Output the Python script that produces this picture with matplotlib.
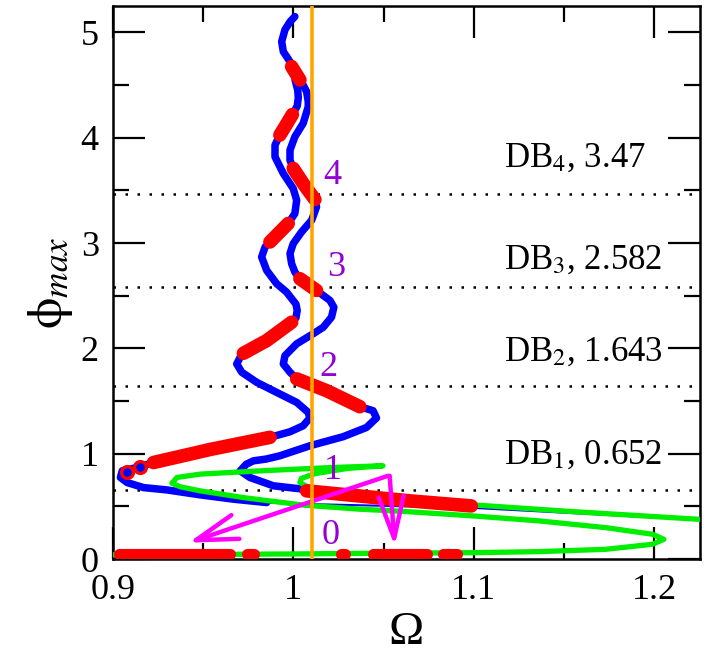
import matplotlib
matplotlib.use("Agg")
import matplotlib.pyplot as plt
from matplotlib.ticker import MultipleLocator

plt.rcParams['font.family'] = ['Liberation Serif', 'DejaVu Serif']
plt.rcParams['mathtext.fontset'] = 'stix'

# ---------------- data ----------------
# blue branch A (left snake), omega / phi_max
blueA_om = [0.9853, 0.9669, 0.9485, 0.930, 0.9171, 0.908, 0.9043, 0.9053, 0.915, 0.9226,
            0.954, 0.9871, 0.9982, 1.0055, 1.0092, 1.0083, 1.0019, 0.9908, 0.9798, 0.9715,
            0.9687, 0.9706, 0.9724, 0.9853, 0.9991, 1.0015, 1.0022, 1.0015, 0.9963, 0.9908,
            0.9853, 0.9825, 0.9844, 0.9871, 0.9972, 1.0009, 1.0019, 1.0, 0.9945, 0.9899,
            0.9899, 0.9926, 0.9995, 1.0022, 1.0028, 1.0025, 1.001]
blueA_phi = [0.536, 0.568, 0.609, 0.656, 0.678, 0.726, 0.774, 0.837, 0.875, 0.916,
             1.04, 1.155, 1.208, 1.265, 1.339, 1.392, 1.487, 1.582, 1.677, 1.773,
             1.852, 1.915, 1.953, 2.074, 2.248, 2.29, 2.36, 2.42, 2.534, 2.614,
             2.74, 2.867, 2.962, 3.01, 3.185, 3.28, 3.406, 3.517, 3.66, 3.818,
             3.93, 4.025, 4.22, 4.30, 4.38, 4.45, 4.55]

# faint tail of branch A under the green curve
tailA_om = [0.9853, 1.0, 1.05, 1.10, 1.15, 1.20, 1.225]
tailA_phi = [0.536, 0.525, 0.505, 0.485, 0.44, 0.395, 0.37]

# blue branch B (right snake)
blueB_om = [1.0074, 1.0055, 0.989, 0.976, 0.9706, 0.974, 0.9779, 0.985, 0.9926, 1.0092,
            1.0276, 1.0406, 1.0461, 1.0442, 1.0369, 1.0185, 1.0019, 0.9982, 0.9945, 0.9954,
            1.0019, 1.011, 1.0166, 1.0212, 1.0225, 1.0203, 1.0166, 1.0129, 1.0037, 1.0009,
            0.9991, 0.9982, 1.0, 1.0046, 1.0102, 1.0129, 1.012, 1.0055, 1.0, 0.9982,
            0.9982, 1.0009, 1.0055, 1.0083, 1.0083, 1.0074, 1.0055, 1.0037, 0.9991, 0.9982,
            0.9945, 0.9936, 0.9954, 0.9982, 1.0009]
blueB_phi = [0.647, 0.663, 0.695, 0.774, 0.837, 0.90, 0.932, 0.949, 0.98, 1.075,
             1.161, 1.249, 1.339, 1.408, 1.446, 1.598, 1.71, 1.773, 1.852, 1.93,
             2.043, 2.138, 2.2, 2.296, 2.39, 2.455, 2.502, 2.55, 2.661, 2.724,
             2.804, 2.9, 2.994, 3.105, 3.216, 3.343, 3.413, 3.565, 3.708, 3.787,
             3.882, 4.009, 4.136, 4.294, 4.342, 4.437, 4.5, 4.548, 4.675, 4.722,
             4.817, 4.913, 5.024, 5.10, 5.15]

# red (stable) pieces lying on the blue branches
red_om = [[0.9226, 0.954, 0.9871],
          [0.9724, 0.9853, 0.9991],
          [0.9871, 0.992, 0.9972],
          [0.9926, 0.996, 0.9995],
          [1.0074, 1.0645, 1.0986],
          [1.0369, 1.0185, 1.0019],
          [1.0129, 1.0037],
          [1.012, 1.0055, 1.0],
          [1.0037, 0.9991]]
red_phi = [[0.916, 1.04, 1.155],
           [1.953, 2.074, 2.248],
           [3.01, 3.095, 3.185],
           [4.025, 4.12, 4.22],
           [0.647, 0.552, 0.504],
           [1.446, 1.598, 1.71],
           [2.55, 2.661],
           [3.413, 3.565, 3.708],
           [4.548, 4.675]]

# red circles near the left fold
circ_om = [0.908, 0.915]
circ_phi = [0.83, 0.875]

# red pieces of the zero-amplitude state
red0_om = [[0.9036, 0.965], [0.9742, 0.978], [1.0265, 1.0285], [1.044, 1.0739], [1.0827, 1.0905]]
red0_phi = 0.045

# green branch
green_om = [0.9, 0.95, 1.0, 1.05, 1.10, 1.136, 1.173, 1.199, 1.2053, 1.199,
            1.173, 1.136, 1.0995, 1.063, 1.0368, 1.0055, 0.9853, 0.9724, 0.9485, 0.9375,
            0.9328, 0.9356, 0.9485, 0.9853, 1.022, 1.0497, 1.03, 1.012, 1.0045, 1.0037,
            1.0074, 1.02, 1.05, 1.0995, 1.1547, 1.2247]
green_phi = [0.04, 0.043, 0.048, 0.055, 0.06, 0.07, 0.092, 0.14, 0.187, 0.235,
             0.298, 0.362, 0.409, 0.45, 0.473, 0.512, 0.555, 0.583, 0.647, 0.685,
             0.72, 0.774, 0.806, 0.84, 0.869, 0.885, 0.86, 0.81, 0.765, 0.726,
             0.69, 0.655, 0.60, 0.514, 0.45, 0.377]

# double-boundary levels
db_names = [r'DB$_{1}$, 0.652', r'DB$_{2}$, 1.643', r'DB$_{3}$, 2.582', r'DB$_{4}$, 3.47']
db_levels = [0.652, 1.643, 2.582, 3.47]
db_text_phi = [0.90, 1.884, 2.756, 3.723]
db_text_om = 1.117

omega_line = 1.0102

num_labels = ['0', '1', '2', '3', '4']
num_om = [1.0206, 1.0218, 1.0193, 1.0236, 1.0218]
num_phi = [0.219, 0.837, 1.82, 2.772, 3.644]

# arrows (start -> tip)
arrow_start = [(1.0525, 0.79), (1.0534, 0.79)]
arrow_tip = [(0.942, 0.155), (1.0562, 0.124)]

xticks = [0.9, 1.0, 1.1, 1.2]
xticklabels = ['0.9', '1', '1.1', '1.2']
yticks = [0, 1, 2, 3, 4, 5]

# ---------------- drawing ----------------
fig = plt.figure(figsize=(7.06, 6.61), dpi=100)
ax = fig.add_axes([0.1596, 0.1543, 0.8312, 0.8366])

for lev in db_levels:
    ax.axhline(lev, color='black', lw=1.8, linestyle=(0, (1, 3.8)), zorder=1)

ax.plot(tailA_om, tailA_phi, color='blue', lw=1.5, zorder=2, solid_capstyle='round')
ax.plot(blueA_om, blueA_phi, color='blue', lw=5.4, zorder=2, solid_capstyle='round')
ax.plot(blueB_om, blueB_phi, color='blue', lw=5.4, zorder=2, solid_capstyle='round')

ax.plot(green_om, green_phi, color='#00ee00', lw=3.8, zorder=3, solid_joinstyle='round')

for xs, ys in zip(red_om, red_phi):
    ax.plot(xs, ys, color='red', lw=9.8, zorder=4, solid_capstyle='round')
for seg in red0_om:
    ax.plot(seg, [red0_phi, red0_phi], color='red', lw=8.0, zorder=4, solid_capstyle='round')
ax.plot(circ_om, circ_phi, linestyle='none', marker='o', markersize=8.5,
        markerfacecolor='blue', markeredgecolor='red', markeredgewidth=2.4, zorder=4)

for (sx, sy), (tx, ty) in zip(arrow_start, arrow_tip):
    ax.annotate('', xy=(tx, ty), xytext=(sx, sy),
                arrowprops=dict(arrowstyle='->,head_length=3.0,head_width=0.9',
                                color='#ff00ff', lw=3.2, shrinkA=0, shrinkB=0,
                                mutation_scale=10),
                zorder=5)

ax.axvline(omega_line, color='#ffa500', lw=2.6, zorder=6)

for lab, x, y in zip(num_labels, num_om, num_phi):
    ax.text(x, y, lab, color='#9400d3', fontsize=26, ha='center', va='center', zorder=7)

for name, y in zip(db_names, db_text_phi):
    ax.text(db_text_om, y, name, fontsize=25, ha='left', va='baseline', zorder=7)

ax.set_xlim(0.9, 1.225)
ax.set_ylim(0, 5.25)
ax.set_xticks(xticks)
ax.set_xticklabels(xticklabels)
ax.set_yticks(yticks)
ax.xaxis.set_minor_locator(MultipleLocator(0.05))
ax.yaxis.set_minor_locator(MultipleLocator(0.5))
ax.tick_params(which='major', direction='in', length=23, width=1.6, top=True, right=True,
               labelsize=26)
ax.tick_params(axis='x', which='major', pad=11)
ax.tick_params(axis='y', which='major', pad=10)
ax.tick_params(which='minor', direction='in', length=11.5, width=1.6, top=True, right=True)
for sp in ax.spines.values():
    sp.set_linewidth(1.8)

ax.set_xlabel('Ω', fontsize=34, labelpad=3)
ax.set_ylabel(r'$\mathrm{\phi}_{max}$', fontsize=36, labelpad=4)

fig.savefig('out.png', dpi=100)
